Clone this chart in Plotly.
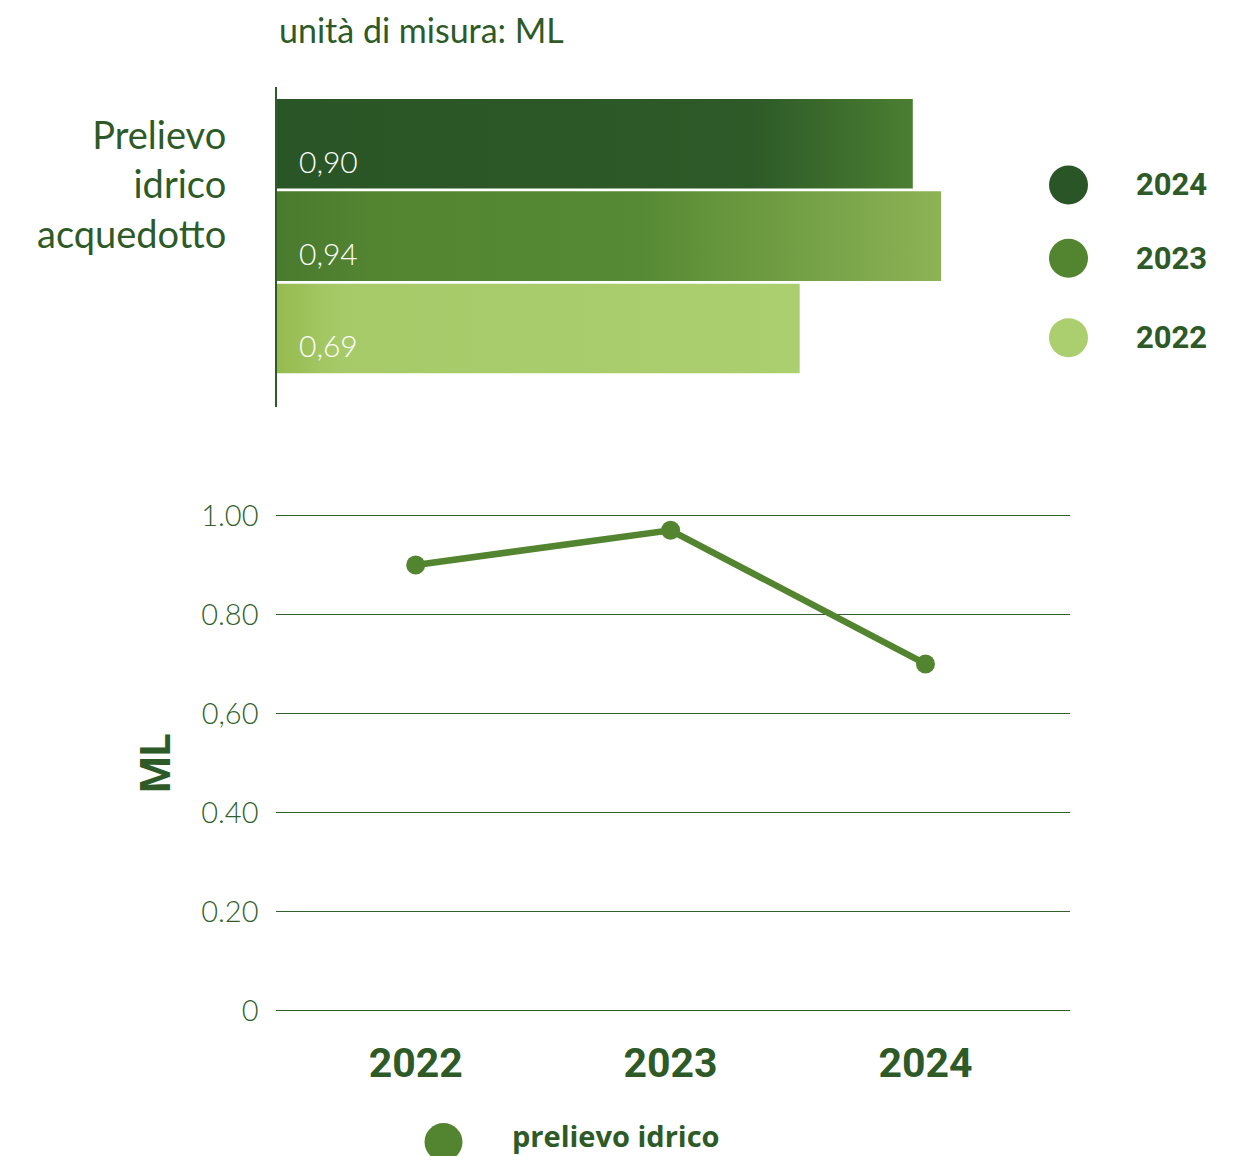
import plotly.graph_objects as go

W, H = 1239, 1156

# ---------------- data ----------------
bar_years = [2024, 2023, 2022]
bar_lengths = [0.90, 0.94, 0.74]          # bar lengths as drawn in the reference
bar_labels = ["0,90", "0,94", "0,69"]     # printed values
bar_category = "Prelievo<br>idrico<br>acquedotto"

legend_years = ["2024", "2023", "2022"]
legend_colors = ["#2a5526", "#538530", "#abce6e"]

line_years = [2022, 2023, 2024]
line_values = [0.90, 0.97, 0.70]
line_name = "prelievo idrico"
y_tickvals = [0, 0.2, 0.4, 0.6, 0.8, 1.0]
y_ticktext = ["0", "0.20", "0.40", "0,60", "0.80", "1.00"]
x_ticktext = ["2022", "2023", "2024"]

title_text = "unità di misura: ML"
y_title = "ML"

# ---------------- layout helpers (page calibration) ----------------
KY, BY = 0.969, 25.7
BX = 7.5


def fx(px):
    return (px - BX) / W


def fy(py):
    return 1 - ((py - BY) / KY) / H


# ---------------- styles ----------------
DARK = "#2d5a27"
TICK = "#325f2c"
LINE = "#538530"
bar_gradients = [
    [[0, "#2a5526"], [0.75, "#2d5a27"], [1, "#4c7e31"]],
    [[0, "#4a7a2e"], [0.15, "#538531"], [0.55, "#578a34"], [1, "#8db355"]],
    [[0, "#95bb4f"], [0.12, "#a7ca69"], [1, "#abce6e"]],
]
HALF = 0.485

fig = go.Figure()

for yr, v, cs in zip(bar_years, bar_lengths, bar_gradients):
    fig.add_trace(go.Scatter(
        x=[0, v, v, 0, 0],
        y=[yr - HALF, yr - HALF, yr + HALF, yr + HALF, yr - HALF],
        fill="toself", mode="lines", line=dict(width=0),
        fillgradient=dict(type="horizontal", colorscale=cs, start=0, stop=v),
        xaxis="x", yaxis="y", showlegend=False, hoverinfo="skip",
    ))

fig.add_trace(go.Scatter(
    x=line_years, y=line_values, mode="lines+markers", name=line_name,
    line=dict(color=LINE, width=6.5), marker=dict(size=19, color=LINE),
    xaxis="x2", yaxis="y2", showlegend=False, cliponaxis=False,
))

annotations = []
for yr, lab in zip(bar_years, bar_labels):
    annotations.append(dict(
        xref="x", yref="y", x=0, y=yr, xshift=20, yshift=-17,
        xanchor="left", yanchor="middle", showarrow=False, text=lab,
        font=dict(family="Lato", size=30, color="white", weight=300),
    ))

annotations.append(dict(
    xref="paper", yref="paper", x=fx(276), y=fy(30),
    xanchor="left", yanchor="middle", showarrow=False, text=title_text,
    font=dict(family="Lato", size=34, color=DARK),
))
annotations.append(dict(
    xref="paper", yref="paper", x=fx(227), y=fy(184),
    xanchor="right", yanchor="middle", align="right", showarrow=False,
    text=bar_category,
    font=dict(family="Lato", size=38, color=DARK),
))
annotations.append(dict(
    xref="paper", yref="paper", x=fx(155), y=fy(761),
    xanchor="center", yanchor="middle", textangle=-90, showarrow=False,
    text=y_title, font=dict(family="Roboto", size=42, color=DARK, weight=700),
))

shapes = []
legend_y = [185, 258, 337]
for lab, col, py in zip(legend_years, legend_colors, legend_y):
    shapes.append(dict(
        type="circle", xref="paper", yref="paper",
        xsizemode="pixel", ysizemode="pixel",
        xanchor=fx(1068), yanchor=fy(py),
        x0=-19.5, x1=19.5, y0=-19.5, y1=19.5,
        fillcolor=col, line=dict(width=0),
    ))
    annotations.append(dict(
        xref="paper", yref="paper", x=fx(1133), y=fy(py),
        xanchor="left", yanchor="middle", showarrow=False, text=lab,
        font=dict(family="Roboto", size=31, color=DARK, weight=700),
    ))

shapes.append(dict(
    type="circle", xref="paper", yref="paper",
    xsizemode="pixel", ysizemode="pixel",
    xanchor=fx(443), yanchor=fy(1138),
    x0=-19, x1=19, y0=-19, y1=19,
    fillcolor=LINE, line=dict(width=0),
))
annotations.append(dict(
    xref="paper", yref="paper", x=fx(510), y=fy(1131),
    xanchor="left", yanchor="middle", showarrow=False, text=line_name,
    borderpad=0,
    font=dict(family="Open Sans", size=29, color=DARK, weight=700),
))

PAD = 2 / 493.0

fig.update_layout(
    width=W, height=H, margin=dict(l=0, r=0, t=0, b=0),
    paper_bgcolor="white", plot_bgcolor="rgba(0,0,0,0)",
    showlegend=False,
    xaxis=dict(domain=[fx(276), fx(1000)], range=[0, (1000 - 276) / 707.0],
               visible=False, anchor="y"),
    yaxis=dict(domain=[fy(406), fy(87)], range=[2021.15, 2024.62],
               showline=True, linecolor=DARK, linewidth=2,
               showticklabels=False, showgrid=False, zeroline=False,
               ticks="", anchor="x"),
    xaxis2=dict(domain=[fx(275), fx(1069)], range=[2021.45, 2024.565],
                anchor="y2", tickmode="array", tickvals=line_years,
                ticktext=x_ticktext, showgrid=False, zeroline=False,
                ticks="", ticklabelstandoff=22,
                tickfont=dict(family="Roboto", size=41, color=DARK, weight=700)),
    yaxis2=dict(domain=[fy(1009), fy(512)], range=[-PAD, 1 + PAD],
                anchor="x2", tickmode="array", tickvals=y_tickvals,
                ticktext=y_ticktext, showgrid=True, gridcolor=TICK,
                gridwidth=1, zeroline=True, zerolinecolor=TICK,
                zerolinewidth=1, ticks="", ticklabelstandoff=16,
                tickfont=dict(family="Lato", size=29, color=TICK, weight=300)),
    annotations=annotations,
    shapes=shapes,
)

fig.write_html("out.html")
